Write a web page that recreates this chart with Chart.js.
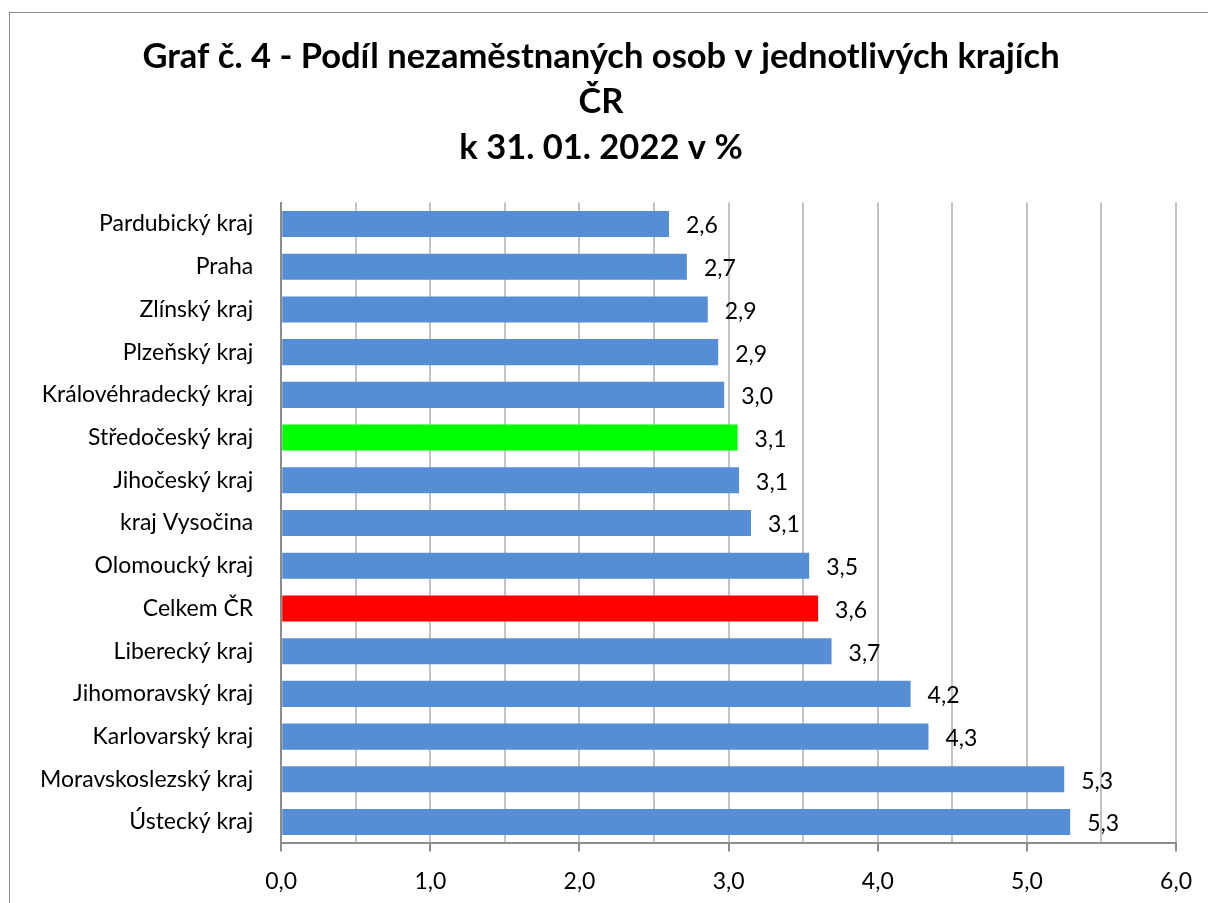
<!DOCTYPE html>
<html>
<head>
<meta charset="utf-8">
<script src="https://cdn.jsdelivr.net/npm/chart.js@4/dist/chart.umd.min.js"></script>
<style>
  html,body{margin:0;padding:0;background:#fff;overflow:hidden;}
  #frame{position:absolute;left:9px;top:12px;width:1400px;height:1000px;border:1px solid #8c8c8c;}
  #wrap{position:absolute;left:0;top:0;width:1208px;height:903px;}
</style>
</head>
<body>
<div id="frame"></div>
<div id="wrap"><canvas id="chart"></canvas></div>
<script>
// ---- Data ----
const regions = [
  "Pardubický kraj", "Praha", "Zlínský kraj", "Plzeňský kraj", "Královéhradecký kraj",
  "Středočeský kraj", "Jihočeský kraj", "kraj Vysočina", "Olomoucký kraj", "Celkem ČR",
  "Liberecký kraj", "Jihomoravský kraj", "Karlovarský kraj", "Moravskoslezský kraj", "Ústecký kraj"
];
const shares = [2.60, 2.72, 2.86, 2.93, 2.97, 3.06, 3.07, 3.15, 3.54, 3.60, 3.69, 4.22, 4.34, 5.25, 5.29];
const highlight = { "Středočeský kraj": "#00ff00", "Celkem ČR": "#ff0000" };
const titleLines = ["Graf č. 4 - Podíl nezaměstnaných osob v jednotlivých krajích", "ČR", "k 31. 01. 2022 v %"];

const FONT = "Lato, 'Open Sans', sans-serif";
const fmt = v => v.toFixed(1).replace(".", ",");

// value labels right of each bar
const valueLabels = {
  id: "valueLabels",
  afterDatasetsDraw(chart){
    const ctx = chart.ctx;
    const meta = chart.getDatasetMeta(0);
    ctx.save();
    ctx.font = "23px " + FONT;
    ctx.fillStyle = "#000";
    ctx.textAlign = "left";
    ctx.textBaseline = "middle";
    meta.data.forEach((bar, i)=>{
      ctx.fillText(fmt(shares[i]), bar.x + 17, bar.y + 2);
    });
    ctx.restore();
  }
};

new Chart(document.getElementById("chart"), {
  type: "bar",
  data: {
    labels: regions,
    datasets: [{
      data: shares,
      backgroundColor: regions.map(r => highlight[r] || "#558ed5"),
      borderWidth: 0,
      categoryPercentage: 0.61,
      barPercentage: 1
    }]
  },
  options: {
    indexAxis: "y",
    responsive: true,
    maintainAspectRatio: false,
    animation: false,
    layout: { padding: { left: 20, right: 26, top: 12, bottom: -8 } },
    plugins: {
      legend: { display: false },
      tooltip: { enabled: false },
      title: {
        display: true,
        text: titleLines,
        color: "#000",
        font: { family: FONT, size: 34.5, weight: "bold", lineHeight: 1.32 },
        padding: { top: 22, bottom: 32 }
      }
    },
    scales: {
      x: {
        min: 0, max: 6,
        ticks: {
          stepSize: 0.5,
          color: "#000",
          font: { family: FONT, size: 23 },
          padding: 16,
          maxRotation: 0,
          autoSkip: false,
          callback: v => (Math.abs(v - Math.round(v)) < 1e-9 ? fmt(v) : "")
        },
        grid: {
          color: "#c4c4c4",
          lineWidth: 2,
          tickLength: 8,
          tickColor: c => (c.tick && Number.isInteger(c.tick.value) ? "#8c8c8c" : "rgba(0,0,0,0)")
        },
        border: { display: true, color: "#8c8c8c", width: 2 }
      },
      y: {
        ticks: {
          color: "#000",
          font: { family: FONT, size: 23 },
          padding: 20,
          autoSkip: false
        },
        grid: { display: false },
        border: { display: true, color: "#8c8c8c", width: 2 }
      }
    }
  },
  plugins: [valueLabels]
});
</script>
</body>
</html>
